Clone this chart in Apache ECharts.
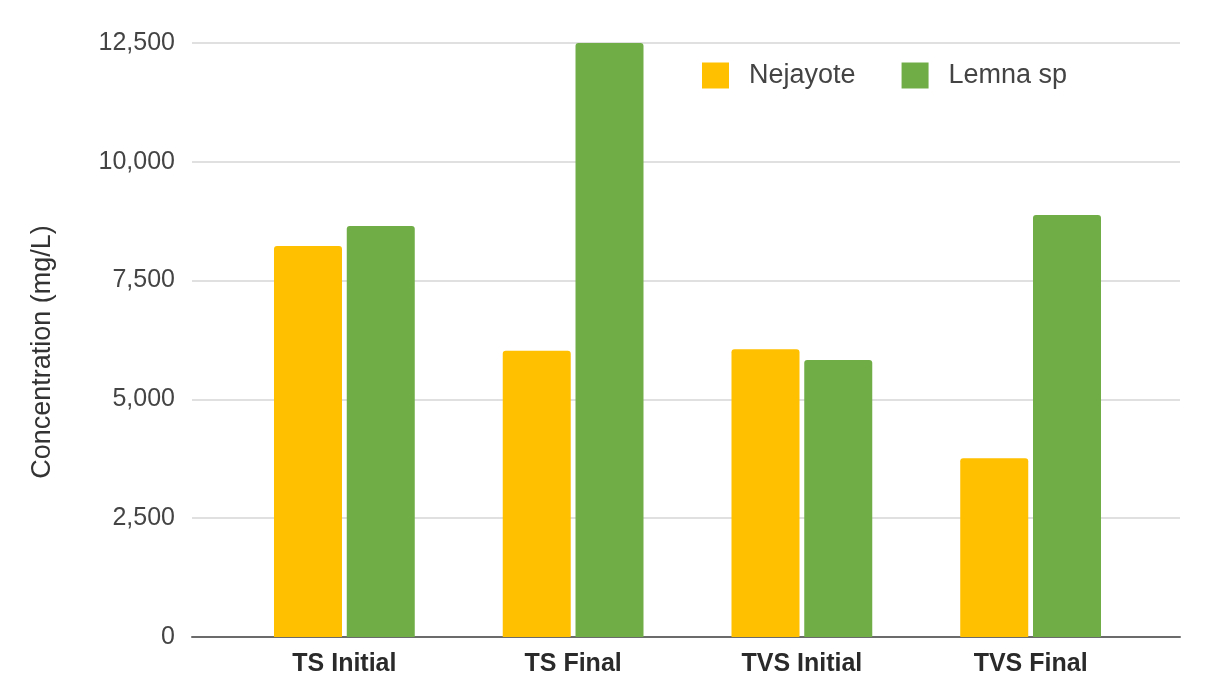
<!DOCTYPE html>
<html>
<head>
<meta charset="utf-8">
<title>Concentration</title>
<script src="https://cdn.jsdelivr.net/npm/echarts@6/dist/echarts.min.js"></script>
<style>
  html, body { margin: 0; padding: 0; background: #ffffff; }
  #chart { width: 1228px; height: 683px; }
</style>
</head>
<body>
<div id="chart"></div>
<script>
// Sample groups on the category axis
const categories = ['TS Initial', 'TS Final', 'TVS Initial', 'TVS Final'];
// Concentrations in mg/L
const nejayote = [8230, 6025, 6055, 3760];
const lemna = [8650, 12500, 5830, 8880];
const seriesNames = ['Nejayote', 'Lemna sp'];
// Value-axis ticks
const yMin = 0;
const yMax = 12500;
const yStep = 2500;

const chart = echarts.init(document.getElementById('chart'));

const fmt = v => v.toLocaleString('en-US');

chart.setOption({
  backgroundColor: '#ffffff',
  animation: false,
  textStyle: { fontFamily: 'Liberation Sans, Arial, sans-serif' },
  legend: {
    left: 697,
    top: 57,
    itemWidth: 27,
    itemHeight: 26,
    itemGap: 46,
    icon: 'rect',
    data: seriesNames,
    textStyle: {
      fontSize: 27,
      color: '#444444',
      padding: [0, 0, 0, 15]
    }
  },
  grid: [
    // frame grid: gridlines, value labels and base line
    { left: 192, right: 48, top: 43, bottom: 46 },
    // bar grid: narrower category band
    { left: 230, right: 83, top: 43, bottom: 46 }
  ],
  xAxis: [
    {
      gridIndex: 0,
      type: 'value',
      min: 0,
      max: 1,
      axisLine: { show: true, lineStyle: { color: '#6b6b6b', width: 2 } },
      axisTick: { show: false },
      axisLabel: { show: false },
      splitLine: { show: false }
    },
    {
      gridIndex: 1,
      type: 'category',
      data: categories,
      axisLine: { show: false },
      axisTick: { show: false },
      axisLabel: {
        margin: 15,
        fontSize: 25,
        fontWeight: 'bold',
        color: '#2a2a2a'
      }
    }
  ],
  yAxis: [
    {
      gridIndex: 0,
      type: 'value',
      min: yMin,
      max: yMax,
      interval: yStep,
      name: 'Concentration (mg/L)',
      nameLocation: 'middle',
      nameRotate: 90,
      nameGap: 136,
      nameTextStyle: { fontSize: 27, color: '#333333', padding: [0, 0, 0, -24] },
      axisLine: { show: false },
      axisTick: { show: false },
      axisLabel: { margin: 17, fontSize: 25, color: '#444444', formatter: fmt },
      splitLine: { lineStyle: { color: '#d6d6d6', width: 1.5 } }
    },
    {
      gridIndex: 1,
      type: 'value',
      min: yMin,
      max: yMax,
      interval: yStep,
      show: false,
      splitLine: { show: false }
    }
  ],
  series: [
    {
      name: seriesNames[0],
      type: 'bar',
      xAxisIndex: 1,
      yAxisIndex: 1,
      data: nejayote,
      barWidth: 68,
      barGap: '7%',
      itemStyle: { color: '#ffc000', borderRadius: [3, 3, 0, 0] }
    },
    {
      name: seriesNames[1],
      type: 'bar',
      xAxisIndex: 1,
      yAxisIndex: 1,
      data: lemna,
      barWidth: 68,
      barGap: '7%',
      itemStyle: { color: '#70ad47', borderRadius: [3, 3, 0, 0] }
    }
  ]
});
</script>
</body>
</html>
